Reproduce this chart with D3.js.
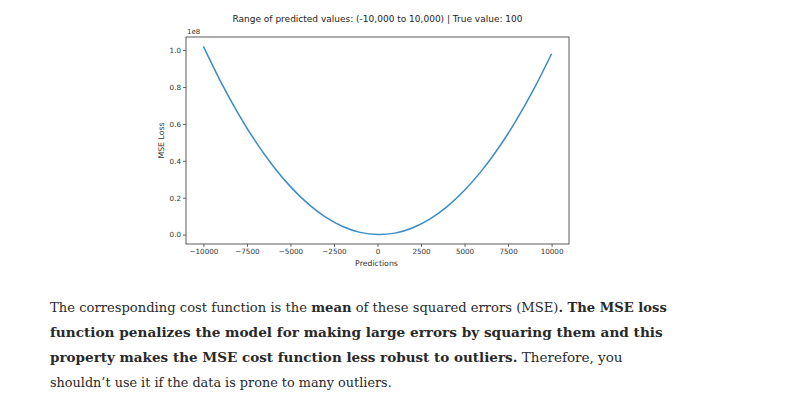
<!DOCTYPE html>
<html>
<head>
<meta charset="utf-8">
<script src="https://cdn.jsdelivr.net/npm/d3@7"></script>
<style>
  body { margin: 0; background: #fff; }
  svg { display: block; }
</style>
</head>
<body>
<div id="vis"></div>
<script>
const FRAME_WIDTH = 800;
const FRAME_HEIGHT = 394;
const MARGINS = {left: 186, right: 231, top: 37, bottom: 150};

const VIS_WIDTH = FRAME_WIDTH - MARGINS.left - MARGINS.right;
const VIS_HEIGHT = FRAME_HEIGHT - MARGINS.top - MARGINS.bottom;

// predictions and the loss (units of 1e8)
const predictions = [-10000, -9000, -8000, -7000, -6000, -5000, -4000, -3000, -2000, -1000,
                     0, 1000, 2000, 3000, 4000, 5000, 6000, 7000, 8000, 9000, 10000];
const mseLoss = [1.02, 0.828, 0.656, 0.504, 0.372, 0.26, 0.168, 0.096, 0.044, 0.012,
                 0.0001, 0.008, 0.036, 0.084, 0.152, 0.24, 0.348, 0.476, 0.624, 0.792, 0.98];

const xTicks = [-10000, -7500, -5000, -2500, 0, 2500, 5000, 7500, 10000];
const yTicks = [0.0, 0.2, 0.4, 0.6, 0.8, 1.0];

const TITLE = "Range of predicted values: (-10,000 to 10,000) | True value: 100";

// paragraph lines, each a list of [text, bold]
const paragraph = [
  [["The corresponding cost function is the ", false], ["mean", true],
   [" of these squared errors (MSE)", false], [". The MSE loss", true]],
  [["function penalizes the model for making large errors by squaring them and this", true]],
  [["property makes the MSE cost function less robust to outliers.", true], [" Therefore, you", false]],
  [["shouldn\u2019t use it if the data is prone to many outliers.", false]]
];
const lineWidths = [617, 613, 573, 342];

const X_SCALE = d3.scaleLinear()
                  .domain([-11000, 11000]) // 5% padding like matplotlib
                  .range([0, VIS_WIDTH]);

const Y_SCALE = d3.scaleLinear()
                  .domain([-0.051, 1.071])
                  .range([VIS_HEIGHT, 0]);

const SVG = d3.select("#vis")
              .append("svg")
                .attr("width", FRAME_WIDTH)
                .attr("height", FRAME_HEIGHT);

const PLOT = SVG.append("g")
                .attr("transform", "translate(" + MARGINS.left + "," + MARGINS.top + ")");

// curve
const line = d3.line()
               .x((d, i) => X_SCALE(predictions[i]))
               .y((d) => Y_SCALE(d))
               .curve(d3.curveCatmullRom);

PLOT.append("path")
    .datum(mseLoss)
    .attr("d", line)
    .attr("fill", "none")
    .attr("stroke", "#3a8bc6")
    .attr("stroke-width", 1.5);

// axes
const fmtX = (d) => d < 0 ? "\u2212" + Math.abs(d) : String(d);

const xAxis = PLOT.append("g")
    .attr("transform", "translate(0," + VIS_HEIGHT + ")")
    .call(d3.axisBottom(X_SCALE).tickValues(xTicks).tickFormat(fmtX).tickSizeOuter(0).tickSize(3).tickPadding(2));

const yAxis = PLOT.append("g")
    .call(d3.axisLeft(Y_SCALE).tickValues(yTicks).tickFormat(d3.format(".1f")).tickSizeOuter(0).tickSize(3).tickPadding(2));

[xAxis, yAxis].forEach((a) => {
  a.select(".domain").remove();
  a.selectAll("line").attr("stroke", "#444").attr("stroke-width", 0.8);
  a.selectAll("text")
    .attr("fill", "#333")
    .attr("font-family", "DejaVu Sans")
    .attr("font-size", "7.2px");
});

// frame
PLOT.append("rect")
    .attr("width", VIS_WIDTH)
    .attr("height", VIS_HEIGHT)
    .attr("fill", "none")
    .attr("stroke", "#333")
    .attr("stroke-width", 0.8);

// labels
PLOT.append("text")
    .attr("x", VIS_WIDTH / 2)
    .attr("y", -15)
    .attr("text-anchor", "middle")
    .attr("font-family", "DejaVu Sans")
    .attr("font-size", "9px")
    .attr("fill", "#222")
    .text(TITLE);

PLOT.append("text")
    .attr("x", 1)
    .attr("y", -3)
    .attr("font-family", "DejaVu Sans")
    .attr("font-size", "7px")
    .attr("fill", "#333")
    .text("1e8");

PLOT.append("text")
    .attr("x", VIS_WIDTH / 2 - 1)
    .attr("y", VIS_HEIGHT + 22)
    .attr("text-anchor", "middle")
    .attr("font-family", "DejaVu Sans")
    .attr("font-size", "7.8px")
    .attr("fill", "#333")
    .text("Predictions");

PLOT.append("text")
    .attr("transform", "translate(-22," + (VIS_HEIGHT / 2) + ") rotate(-90)")
    .attr("text-anchor", "middle")
    .attr("font-family", "DejaVu Sans")
    .attr("font-size", "7.8px")
    .attr("fill", "#333")
    .text("MSE Loss");

// paragraph below the chart: size each line so it spans the same width as the reference
paragraph.forEach((parts, i) => {
  const t = SVG.append("text")
      .attr("x", 50)
      .attr("y", 312 + i * 25)
      .attr("font-family", "DejaVu Serif")
      .attr("font-size", "16px")
      .attr("fill", "#292929");
  parts.forEach((p) => {
    t.append("tspan")
      .attr("font-weight", p[1] ? "bold" : "normal")
      .text(p[0]);
  });
  const natural = t.node().getComputedTextLength();
  t.attr("font-size", (16 * lineWidths[i] / natural).toFixed(2) + "px");
});
</script>
</body>
</html>
